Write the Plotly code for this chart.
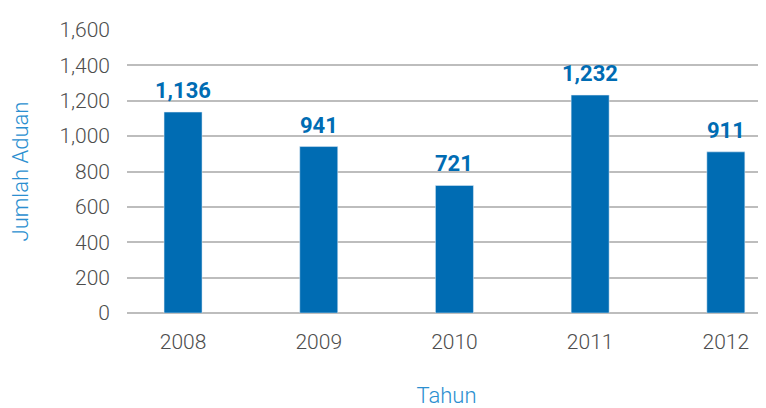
import plotly.graph_objects as go

years = ["2008", "2009", "2010", "2011", "2012"]
complaints = [1136, 941, 721, 1232, 911]
y_ticks = [0, 200, 400, 600, 800, 1000, 1200, 1400, 1600]
y_tick_labels = ["0", "200", "400", "600", "800", "1,000", "1,200", "1,400", "1,600"]

BAR = "#006cb3"
TITLE = "#2b8fd0"
GRID = "#bdbdbd"
TICK = "#4d4d4d"
FONT = "Roboto"

fig = go.Figure()
fig.add_trace(go.Bar(
    x=years, y=complaints, marker_color=BAR, width=0.28,
    hoverinfo="skip",
))
for i, v in enumerate(complaints):
    fig.add_annotation(
        x=i, y=v, xref="x", yref="y", text=f"<b>{v:,}</b>", showarrow=False,
        yanchor="bottom", yshift=7,
        font=dict(family=FONT, size=22, color=BAR),
    )

# page body has an 8px margin, so the figure is sized/offset to compensate
fig.update_layout(
    width=758, height=400,
    margin=dict(l=119, r=0, t=22, b=95),
    paper_bgcolor="white", plot_bgcolor="white",
    showlegend=False,
    font=dict(family=FONT, size=21, color=TICK),
)
fig.update_xaxes(
    type="category", range=[-0.413, 4.296],
    showgrid=False, showline=False, zeroline=False,
    ticks="", ticklabelstandoff=14,
    tickfont=dict(family=FONT, size=21, color=TICK, weight=300),
    title=dict(text="Tahun", standoff=37, font=dict(family=FONT, size=22, color=TITLE, weight=300)),
)
fig.update_yaxes(
    range=[0, 1600], tickvals=y_ticks, ticktext=y_tick_labels,
    showgrid=True, gridcolor=GRID, gridwidth=1.5,
    zeroline=True, zerolinecolor=GRID, zerolinewidth=1.5,
    showline=False, ticks="", ticklabelstandoff=16,
    tickfont=dict(family=FONT, size=21, color=TICK, weight=300),
    title=dict(text="Jumlah Aduan", standoff=33, font=dict(family=FONT, size=22, color=TITLE, weight=300)),
)

fig.write_html("out.html")
